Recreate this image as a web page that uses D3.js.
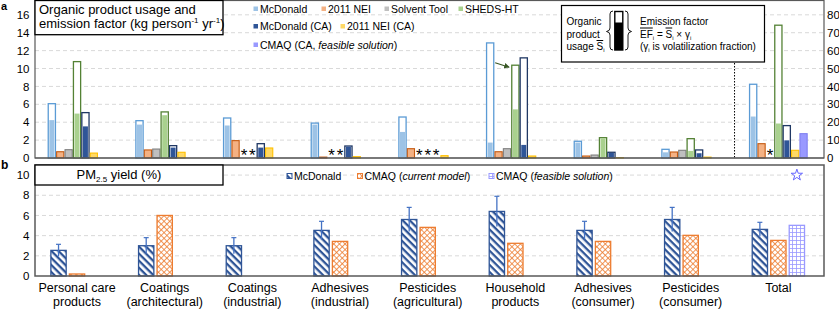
<!DOCTYPE html>
<html>
<head>
<meta charset="utf-8">
<script src="https://cdn.jsdelivr.net/npm/d3@7"></script>
<style>
  body { margin: 0; background: #fff; }
  text { font-family: "Liberation Sans", Arial, sans-serif; fill: #000; }
</style>
</head>
<body>
<script>
// ---- data ----
const categoryLabels = [
  ["Personal care", "products"], ["Coatings", "(architectural)"], ["Coatings", "(industrial)"],
  ["Adhesives", "(industrial)"], ["Pesticides", "(agricultural)"], ["Household", "products"],
  ["Adhesives", "(consumer)"], ["Pesticides", "(consumer)"], ["Total"]
];
const categories = categoryLabels.map(d => d.join(" "));

// panel a: usage (outline) and emission factor (filled part), kg person-1 yr-1
// last value (Total) is read on the right axis
const usageSeries = ["McDonald", "2011 NEI", "Solvent Tool", "SHEDS-HT", "McDonald (CA)", "2011 NEI (CA)", "CMAQ (CA, feasible solution)"];
const mcdUsage    = [6.07, 4.17, 4.47, 3.9, 4.58, 12.86, 1.87, 0.97, 41.2];
const mcdEF       = [4.3, 3.8, 3.7, 3.8, 2.98, 1.79, 1.79, 0.7, 23.5];
const neiUsage    = [0.7, 0.9, 1.94, 0.1, 1.04, 0.7, 0.22, 0.67, 8.0];
const solventUsage = [0.93, 1.0, null, null, null, 1.04, 0.33, 0.86, null];
const shedsUsage  = [10.77, 5.15, null, null, null, 10.37, 2.27, 2.16, 74.2];
const shedsEF     = [5.03, 4.85, null, null, null, 5.5, 2.27, 0.86, 19.6];
const mcdCAUsage  = [5.07, 1.38, 1.6, 1.34, null, 11.19, 0.64, 0.9, 18.1];
const mcdCAEF     = [3.6, 1.23, 1.23, 1.34, null, 1.53, 0.64, 0.6, 10.2];
const neiCAUsage  = [0.55, 0.64, 1.12, 0.15, 0.26, 0.22, 0.05, 0.1, 4.3];
const cmaqCAUsage = [null, null, null, null, null, null, null, null, 13.6];
const leftTicksA  = [0, 2, 4, 6, 8, 10, 12, 14, 16];
const rightTicksA = [0, 10, 20, 30, 40, 50, 60, 70, 80];

// panel b: PM2.5 yield (%)
const pmSeries   = ["McDonald", "CMAQ (current model)", "CMAQ (feasible solution)"];
const pmMcd      = [2.54, 3.0, 3.0, 4.52, 5.6, 6.4, 4.52, 5.6, 4.62];
const pmMcdErr   = [0.6, 0.8, 0.8, 0.9, 1.2, 1.5, 0.9, 1.2, 0.7];
const pmCmaq     = [0.2, 6.0, null, 3.43, 4.82, 3.24, 3.43, 4.03, 3.53];
const pmFeasible = [null, null, null, null, null, null, null, null, 5.02];
const pmStar     = { category: "Total", value: 10 };
const ticksB     = [0, 2, 4, 6, 8, 10];

// ---- layout ----
const W = 839, H = 310;
const left = 35, right = 824;
const svg = d3.select("body").append("svg").attr("width", W).attr("height", H);

const defs = svg.append("defs");
function pattern(id, size, rot, color, lines) {
  const p = defs.append("pattern").attr("id", id).attr("patternUnits", "userSpaceOnUse")
    .attr("width", size).attr("height", size);
  if (rot) p.attr("patternTransform", "rotate(" + rot + ")");
  p.append("rect").attr("width", size).attr("height", size).attr("fill", "#fff");
  lines(p, color, size);
}
pattern("pStripe", 5, 45, "#2F5597", (p, c, s) => p.append("rect").attr("width", s).attr("height", 2.3).attr("fill", c));
pattern("pCross", 4, 45, "#ED7D31", (p, c, s) => {
  p.append("rect").attr("width", s).attr("height", 0.8).attr("fill", c);
  p.append("rect").attr("width", 0.8).attr("height", s).attr("fill", c);
});
pattern("pGrid", 4, 0, "#9999FF", (p, c, s) => {
  p.append("rect").attr("width", s).attr("height", 0.8).attr("fill", c);
  p.append("rect").attr("width", 0.8).attr("height", s).attr("fill", c);
});
defs.append("marker").attr("id", "arrow").attr("viewBox", "0 0 10 10").attr("refX", 9).attr("refY", 5)
  .attr("markerWidth", 5).attr("markerHeight", 5).attr("orient", "auto")
  .append("path").attr("d", "M0,0 L10,5 L0,10 z").attr("fill", "#375623");

const x = d3.scaleBand().domain(categories).range([33.2, 822.2]);

// ================= panel a =================
const yA = d3.scaleLinear().domain([0, 17.6]).range([158, 0.5]);
const yAR = d3.scaleLinear().domain([0, 88]).range([158, 0.5]);
const groupA = 58.8;
const subA = d3.scaleBand().domain(usageSeries).range([0, groupA]);

const gA = svg.append("g");
gA.selectAll(".gridA").data(leftTicksA.slice(1)).enter().append("line")
  .attr("x1", left).attr("x2", right).attr("y1", d => yA(d)).attr("y2", d => yA(d))
  .attr("stroke", "#d9d9d9").attr("stroke-dasharray", "4,3");

const seriesA = [
  { name: usageSeries[0], u: mcdUsage, e: mcdEF, fill: "#9DC3E6", stroke: "#5B9BD5" },
  { name: usageSeries[1], u: neiUsage, e: null, fill: "#F4B183", stroke: "#C55A11" },
  { name: usageSeries[2], u: solventUsage, e: null, fill: "#BFBFBF", stroke: "#7F7F7F" },
  { name: usageSeries[3], u: shedsUsage, e: shedsEF, fill: "#A9D18E", stroke: "#548235" },
  { name: usageSeries[4], u: mcdCAUsage, e: mcdCAEF, fill: "#2F5597", stroke: "#203864" },
  { name: usageSeries[5], u: neiCAUsage, e: null, fill: "#FFD966", stroke: "#FFC000" },
  { name: usageSeries[6], u: cmaqCAUsage, e: null, fill: "#9999FF", stroke: "#8080F0" }
];

const bw = subA.bandwidth();
seriesA.forEach((s, j) => {
  categories.forEach((cat, i) => {
    const y = cat === "Total" ? yAR : yA;
    const x0 = x(cat) + (x.bandwidth() - groupA) / 2 + subA(s.name);
    const u = s.u[i];
    if (u == null) {
      if (j < 6) {
        gA.append("text").attr("x", x0 + bw / 2).attr("y", 160.5).attr("text-anchor", "middle")
          .style("font-size", "17px").text("*");
      }
      return;
    }
    if (s.e) {
      gA.append("rect").attr("x", x0 + 0.6).attr("y", y(u)).attr("width", bw - 1.2)
        .attr("height", y(0) - y(u)).attr("fill", "#fff").attr("stroke", s.stroke).attr("stroke-width", 1.3);
      const e = s.e[i];
      gA.append("rect").attr("x", x0 + 1.7).attr("y", y(e) + 0.6).attr("width", bw - 3.4)
        .attr("height", Math.max(0, y(0) - y(e) - 0.6)).attr("fill", s.fill);
    } else {
      gA.append("rect").attr("x", x0 + 0.6).attr("y", y(u)).attr("width", bw - 1.2)
        .attr("height", y(0) - y(u)).attr("fill", s.fill).attr("stroke", s.stroke).attr("stroke-width", 1.1);
    }
  });
});

// arrow to SHEDS household bar
const hx = x(categories[5]) + (x.bandwidth() - groupA) / 2 + subA(usageSeries[3]);
const hy = yA(shedsUsage[5]);
gA.append("line").attr("x1", hx - 16).attr("y1", hy - 2.5).attr("x2", hx - 2).attr("y2", hy + 2)
  .attr("stroke", "#375623").attr("stroke-width", 1.1).attr("marker-end", "url(#arrow)");

// dotted separator before Total
gA.append("line").attr("x1", x("Total")).attr("x2", x("Total")).attr("y1", 63).attr("y2", 158)
  .attr("stroke", "#000").attr("stroke-dasharray", "1.5,1.5");

// frame and axes
gA.append("rect").attr("x", left).attr("y", 0.5).attr("width", right - left).attr("height", 157.5)
  .attr("fill", "none").attr("stroke", "#595959").attr("stroke-width", 1.2);
gA.append("line").attr("x1", left).attr("x2", right).attr("y1", 158).attr("y2", 158).attr("stroke", "#595959").attr("stroke-width", 1.2);

const axL = gA.append("g").attr("transform", "translate(" + left + ",0)")
  .call(d3.axisLeft(yA).tickValues(leftTicksA).tickSize(0).tickPadding(5.5));
const axR = gA.append("g").attr("transform", "translate(" + right + ",0)")
  .call(d3.axisRight(yAR).tickValues(rightTicksA).tickSize(0).tickPadding(3));
[axL, axR].forEach(a => {
  a.select(".domain").remove();
  a.selectAll("text").style("font-size", "11.5px").style("font-family", "'Liberation Sans', Arial, sans-serif").attr("fill", "#000");
});

// title box
gA.append("rect").attr("x", left).attr("y", 0.5).attr("width", 188).attr("height", 34.2)
  .attr("fill", "#fff").attr("stroke", "#000").attr("stroke-width", 1.3);
gA.append("text").attr("x", 39).attr("y", 13.5).style("font-size", "13px").text("Organic product usage and");
const t2 = gA.append("text").attr("x", 39).attr("y", 28).style("font-size", "13px");
t2.append("tspan").text("emission factor (kg person");
t2.append("tspan").attr("dy", -5).style("font-size", "8px").text("-1");
t2.append("tspan").attr("dy", 5).text(" yr");
t2.append("tspan").attr("dy", -5).style("font-size", "8px").text("-1");
t2.append("tspan").attr("dy", 5).text(")");

// legend a
const legA = [
  { s: 0, x: 254, y: 9 }, { s: 1, x: 322, y: 9 }, { s: 2, x: 385, y: 9 }, { s: 3, x: 459, y: 9 },
  { s: 4, x: 254, y: 26.5 }, { s: 5, x: 341, y: 26.5 }, { s: 6, x: 254, y: 45 }
];
legA.forEach(l => {
  const s = seriesA[l.s];
  gA.append("rect").attr("x", l.x - 0.5).attr("y", l.y - 2.5).attr("width", 4.5).attr("height", 4.5).attr("fill", s.fill);
  const t = gA.append("text").attr("x", l.x + 6).attr("y", l.y + 3.7).style("font-size", "10.5px");
  if (l.s === 6) {
    t.append("tspan").text("CMAQ (CA, ");
    t.append("tspan").style("font-style", "italic").text("feasible solution");
    t.append("tspan").text(")");
  } else t.text(s.name);
});

// inset explaining the bars
const ins = gA.append("g");
ins.append("rect").attr("x", 561.5).attr("y", 5.5).attr("width", 203).attr("height", 56.5)
  .attr("fill", "#fff").attr("stroke", "#000").attr("stroke-width", 1.2);
const fs = "10px";
ins.append("text").attr("x", 566.5).attr("y", 25).style("font-size", fs).text("Organic");
ins.append("text").attr("x", 566.5).attr("y", 37.5).style("font-size", fs).text("product");
const u1 = ins.append("text").attr("x", 566.5).attr("y", 50).style("font-size", fs);
u1.append("tspan").text("usage ");
u1.append("tspan").style("text-decoration", "overline").text("S");
u1.append("tspan").attr("dy", 2).style("font-size", "6px").text("i");
ins.append("path").attr("d", "M613,11 Q610,11 610,14 L610,28 Q610,31 606.5,31.5 Q610,32 610,35 L610,47 Q610,50 613,50")
  .attr("fill", "none").attr("stroke", "#000").attr("stroke-width", 0.9);
ins.append("path").attr("d", "M625,11 Q628,11 628,14 L628,28 Q628,31 631.5,31.5 Q628,32 628,35 L628,47 Q628,50 625,50")
  .attr("fill", "none").attr("stroke", "#000").attr("stroke-width", 0.9);
ins.append("rect").attr("x", 614.8).attr("y", 11.5).attr("width", 8).attr("height", 38.5)
  .attr("fill", "#fff").attr("stroke", "#000").attr("stroke-width", 1.4);
ins.append("rect").attr("x", 614.8).attr("y", 22.5).attr("width", 8).attr("height", 27.5).attr("fill", "#000");
ins.append("text").attr("x", 640).attr("y", 25).style("font-size", fs).text("Emission factor");
const e1 = ins.append("text").attr("x", 640).attr("y", 37.5).style("font-size", fs);
e1.append("tspan").style("text-decoration", "overline").text("EF");
e1.append("tspan").attr("dy", 2).style("font-size", "6px").text("i");
e1.append("tspan").attr("dy", -2).text(" = ");
e1.append("tspan").style("text-decoration", "overline").text("S");
e1.append("tspan").attr("dy", 2).style("font-size", "6px").text("i");
e1.append("tspan").attr("dy", -2).text(" \u00d7 \u03b3");
e1.append("tspan").attr("dy", 2).style("font-size", "6px").text("i");
const e2 = ins.append("text").attr("x", 640).attr("y", 50).style("font-size", fs);
e2.append("tspan").text("(\u03b3");
e2.append("tspan").attr("dy", 2).style("font-size", "6px").text("i");
e2.append("tspan").attr("dy", -2).text(" is volatilization fraction)");

// ================= panel b =================
const yB = d3.scaleLinear().domain([0, 11]).range([276, 165]);
const groupB = 53.5;
const subB = d3.scaleBand().domain(pmSeries).range([0, groupB]).paddingInner(0.108);
const gB = svg.append("g");

gB.selectAll(".gridB").data(ticksB.slice(1)).enter().append("line")
  .attr("x1", left).attr("x2", right).attr("y1", d => yB(d)).attr("y2", d => yB(d))
  .attr("stroke", "#d9d9d9").attr("stroke-dasharray", "4,3");

const seriesB = [
  { name: pmSeries[0], v: pmMcd, fill: "url(#pStripe)", stroke: "#2F5597" },
  { name: pmSeries[1], v: pmCmaq, fill: "url(#pCross)", stroke: "#ED7D31" },
  { name: pmSeries[2], v: pmFeasible, fill: "url(#pGrid)", stroke: "#9999FF" }
];
const bwB = subB.bandwidth();
seriesB.forEach(s => {
  categories.forEach((cat, i) => {
    const v = s.v[i];
    if (v == null) return;
    const x0 = x(cat) + (x.bandwidth() - groupB) / 2 + subB(s.name);
    gB.append("rect").attr("x", x0 + 0.6).attr("y", yB(v)).attr("width", bwB - 1.2)
      .attr("height", yB(0) - yB(v)).attr("fill", s.fill).attr("stroke", s.stroke).attr("stroke-width", 1.3);
  });
});
// error bars on McDonald
categories.forEach((cat, i) => {
  const cx = x(cat) + (x.bandwidth() - groupB) / 2 + subB(pmSeries[0]) + bwB / 2;
  const top = yB(pmMcd[i] + pmMcdErr[i]), bot = yB(pmMcd[i] - pmMcdErr[i]);
  gB.append("line").attr("x1", cx).attr("x2", cx).attr("y1", top).attr("y2", bot).attr("stroke", "#4472C4").attr("stroke-width", 1.3);
  gB.append("line").attr("x1", cx - 2.5).attr("x2", cx + 2.5).attr("y1", top).attr("y2", top).attr("stroke", "#4472C4").attr("stroke-width", 1.2);
});
// star marker
const sx = x(pmStar.category) + (x.bandwidth() - groupB) / 2 + subB(pmSeries[2]) + bwB / 2;
gB.append("path").attr("d", d3.symbol(d3.symbolStar).size(40)())
  .attr("transform", "translate(" + sx + "," + yB(pmStar.value) + ")")
  .attr("fill", "#fff").attr("stroke", "#6666FF").attr("stroke-width", 1);

gB.append("rect").attr("x", left).attr("y", 165).attr("width", right - left).attr("height", 111)
  .attr("fill", "none").attr("stroke", "#595959").attr("stroke-width", 1.5);
const axB = gB.append("g").attr("transform", "translate(" + left + ",0)")
  .call(d3.axisLeft(yB).tickValues(ticksB).tickSize(0).tickPadding(5.5));
axB.select(".domain").remove();
axB.selectAll("text").style("font-size", "11.5px").style("font-family", "'Liberation Sans', Arial, sans-serif").attr("fill", "#000");

// title box b
gB.append("rect").attr("x", left).attr("y", 165).attr("width", 188).attr("height", 20)
  .attr("fill", "#fff").attr("stroke", "#000").attr("stroke-width", 1.3);
const tb = gB.append("text").attr("x", 76.5).attr("y", 179.3).style("font-size", "13px");
tb.append("tspan").text("PM");
tb.append("tspan").attr("dy", 3).style("font-size", "8px").text("2.5");
tb.append("tspan").attr("dy", -3).text("  yield (%)");

// legend b
const legB = [{ s: 0, x: 287 }, { s: 1, x: 357.5 }, { s: 2, x: 489 }];
legB.forEach(l => {
  const s = seriesB[l.s];
  gB.append("rect").attr("x", l.x).attr("y", 173.5).attr("width", 5).attr("height", 5)
    .attr("fill", s.fill).attr("stroke", s.stroke).attr("stroke-width", 1);
  const t = gB.append("text").attr("x", l.x + 7).attr("y", 179.6).style("font-size", "10.5px");
  if (l.s === 0) t.text("McDonald");
  else {
    t.append("tspan").text("CMAQ (");
    t.append("tspan").style("font-style", "italic").text(l.s === 1 ? "current model" : "feasible solution");
    t.append("tspan").text(")");
  }
});

// category labels
categoryLabels.forEach((lines, i) => {
  const cx = x(categories[i]) + x.bandwidth() / 2;
  lines.forEach((ln, k) => {
    svg.append("text").attr("x", cx).attr("y", 292 + k * 14).attr("text-anchor", "middle")
      .style("font-size", "12.5px").text(ln);
  });
});

// panel letters
svg.append("text").attr("x", 1).attr("y", 10).style("font-size", "11px").style("font-weight", "bold").text("a");
svg.append("text").attr("x", 1).attr("y", 169).style("font-size", "12px").style("font-weight", "bold").text("b");
</script>
</body>
</html>
